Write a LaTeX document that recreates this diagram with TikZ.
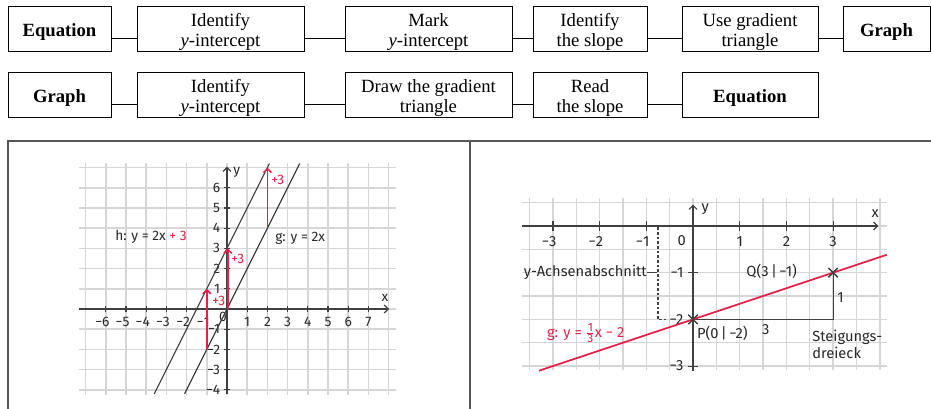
\documentclass[tikz,border=0pt]{standalone}
\usepackage{fontspec}
\setmainfont{Liberation Serif}
\newfontfamily\gfont{Fira Sans}
\usetikzlibrary{arrows.meta,shapes.misc}
\definecolor{gred}{RGB}{228,32,72}
\definecolor{ggrid}{RGB}{214,214,214}
\definecolor{gax}{RGB}{64,64,64}
\definecolor{gtext}{RGB}{40,40,40}
\definecolor{pframe}{RGB}{85,85,85}
\tikzset{
 fbox/.style={draw=black,line width=0.75pt,minimum height=33.75pt,inner sep=0pt,align=center,font=\fontsize{14}{15}\selectfont,execute at begin node={\rule{0pt}{14.2pt}}},
 fboxtwo/.style={fbox,execute at begin node={\rule{0pt}{28.4pt}}},
 conn/.style={draw=black,line width=0.75pt},
 panel/.style={draw=pframe,line width=1pt},
 lgrid/.style={draw=ggrid,line width=1.1pt},
 axis/.style={draw=gax,line width=0.9pt},
 axarrow/.style={-{Straight Barb[length=3pt,width=6pt]}},
 tickm/.style={draw=gax,line width=0.9pt},
 lt/.style={font={\gfont\fontsize{10.3}{12}\selectfont},text=gtext,inner sep=0pt},
 rt/.style={font={\gfont\fontsize{11}{13}\selectfont},text=gtext,inner sep=0pt},
 redarrow/.style={draw=gred,line width=1.1pt,-{Straight Barb[length=3pt,width=6pt]}},
 gline/.style={draw=gax,line width=0.9pt},
 xmark/.style={cross out,draw=gax,line width=0.9pt,minimum size=6pt,inner sep=0pt},
}
\begin{document}
\begin{tikzpicture}[x=0.75pt,y=-0.75pt]
\path[use as bounding box] (0,0) rectangle (931,409);
% ---------- flow row 1
\node[fbox,minimum width=77.25pt] (r1a) at (59.5,29.5) {\textbf{Equation}};
\node[fboxtwo,minimum width=125.25pt] (r1b) at (220.5,29.5) {Identify\\\textit{y}-intercept};
\node[fboxtwo,minimum width=125.25pt] (r1c) at (428.5,29.5) {Mark\\\textit{y}-intercept};
\node[fboxtwo,minimum width=85.5pt] (r1d) at (590,29.5) {Identify\\the slope};
\node[fboxtwo,minimum width=102pt] (r1e) at (750,29.5) {Use gradient\\triangle};
\node[fbox,minimum width=65.25pt] (r1f) at (886.5,29.5) {\textbf{Graph}};
% ---------- flow row 2
\node[fbox,minimum width=77.25pt] (r2a) at (59.5,95.5) {\textbf{Graph}};
\node[fboxtwo,minimum width=125.25pt] (r2b) at (220.5,95.5) {Identify\\\textit{y}-intercept};
\node[fboxtwo,minimum width=125.25pt] (r2c) at (428.5,95.5) {Draw the gradient\\triangle};
\node[fboxtwo,minimum width=85.5pt] (r2d) at (590,95.5) {Read\\the slope};
\node[fbox,minimum width=102pt] (r2e) at (750,95.5) {\textbf{Equation}};
\foreach \a/\b in {r1a/r1b,r1b/r1c,r1c/r1d,r1d/r1e,r1e/r1f,r2a/r2b,r2b/r2c,r2c/r2d,r2d/r2e}
  \draw[conn] ([yshift=-6.4pt]\a.east) -- ([yshift=-6.4pt]\b.west);
% ---------- panels
\draw[panel] (8,409) -- (8,141) -- (931,141);
\draw[panel] (470,141) -- (470,409);
% ---------- left graph
\begin{scope}[shift={(170.25pt,-231.75pt)},x=15.15pt,y=15.15pt]
\foreach \i in {-7,...,8} \draw[lgrid] (\i,-4.25) -- (\i,7.25);
\foreach \j in {-4,...,7} \draw[lgrid] (-7.35,\j) -- (8.35,\j);
\draw[axis,axarrow] (-7.35,0) -- (8.02,0);
\draw[axis,axarrow] (0,-4.2) -- (0,7.05);
\foreach \i in {-6,...,-1,1,2,...,7} \draw[tickm] (\i,-0.17) -- (\i,0.17);
\foreach \j in {-4,...,-1,1,2,...,6} \draw[tickm] (-0.17,\j) -- (0.17,\j);
\foreach \i in {1,...,7} \node[lt] (lx\i) at (\i,-0.63) {\i};
\foreach \i in {1,...,6} \node[lt] (lxm\i) at (-\i,-0.63) {\llap{−}\i};
\foreach \j in {1,...,6} \node[lt,anchor=east] (ly\j) at (-0.33,\j) {\j};
\foreach \j in {1,...,4} \node[lt,anchor=east] (lym\j) at (-0.33,-\j) {−\j};
\node[lt] (l0) at (-0.2,-0.4) {0};
\node[lt] (lxl) at (7.82,0.55) {x};
\node[lt] (lyl) at (0.48,6.75) {y};
\node[lt] (hlab) at (-3.76,3.56) {h: y = 2x {\color{gred}+ 3}};
\node[lt,anchor=west] (glab) at (2.38,3.52) {g: y = 2x};
\draw[gline] (-3.6,-4.2) -- (2.1,7.2);
\draw[gline] (-2.1,-4.2) -- (3.6,7.2);
\draw[redarrow] (2,4) -- (2,7);
\draw[redarrow] (0.04,0) -- (0.04,3);
\draw[redarrow] (-1,-2) -- (-1,1);
\node[lt,anchor=west,text=gred] (p1) at (2.18,6.4) {+3};
\node[lt,anchor=west,text=gred] (p2) at (0.2,2.48) {+3};
\node[lt,anchor=west,text=gred] (p3) at (-0.74,0.4) {+3};
\end{scope}
% ---------- right graph
\begin{scope}[shift={(519.75pt,-169.5pt)},x=35.025pt,y=35.025pt]
\foreach \k in {-7,...,8} \draw[lgrid] (\k/2,-3.08) -- (\k/2,0.6);
\foreach \k in {-6,...,1} \draw[lgrid] (-3.66,\k/2) -- (4.15,\k/2);
\draw[axis,axarrow] (-3.66,0) -- (3.97,0);
\draw[axis,axarrow] (0,-3.1) -- (0,0.46);
\foreach \i in {-3,-2,-1,1,2,3} \draw[tickm] (\i,-0.1) -- (\i,0.1);
\foreach \j in {-1,-3} \draw[tickm] (-0.1,\j) -- (0.1,\j);
\foreach \i in {1,2,3} \node[rt] (rx\i) at (\i,-0.33) {\i};
\foreach \i in {1,2,3} \node[rt] (rxm\i) at (-\i,-0.33) {\llap{−}\i};
\foreach \j in {1,2,3} \node[rt,anchor=east] (rym\j) at (-0.2,-\j) {−\j};
\node[rt] (r0) at (-0.24,-0.31) {0};
\node[rt] (rxl) at (3.9,0.26) {x};
\node[rt] (ryl) at (0.26,0.36) {y};
\draw[gax,line width=0.8pt,dash pattern=on 2pt off 1.5pt] (-0.75,-0.03) -- (-0.75,-2) -- (-0.58,-2);
\node[rt,anchor=east] (ya) at (-0.985,-1) {y-Achsenabschnitt};
\coordinate (ylead) at (-0.77,-1);
\draw[gax,line width=0.8pt] (ya.east) -- (ylead);
\node[xmark] (P) at (0,-2) {};
\node[xmark] (Q) at (3,-1) {};
\draw[gline] (P.center) -- (3,-2) -- (Q.center);
\draw[gred,line width=1.3pt] (-3.3,-3.1) -- (4.15,-0.6167);
\node[xmark] (P2) at (0,-2) {};
\node[xmark] (Q2) at (3,-1) {};
\node[rt,anchor=east] (qlab) at (2.23,-0.98) {Q(3\,|\,−1)};
\node[rt,anchor=west] (plab) at (0.08,-2.29) {P(0\,|\,−2)};
\node[rt] (three) at (1.56,-2.22) {3};
\node[rt] (one) at (3.16,-1.54) {1};
\node[rt,anchor=base west] (st1) at (2.55,-2.48) {Steigungs-};
\node[rt,anchor=base west] (st2) at (2.55,-2.83) {dreieck};
\node[rt,anchor=base west,text=gred] (glab2) at (-3.13,-2.38) {g: y = $\frac{\mbox{\fontsize{9}{9}\selectfont 1}}{\mbox{\fontsize{9}{9}\selectfont 3}}$x − 2};
\end{scope}
\end{tikzpicture}
\end{document}
